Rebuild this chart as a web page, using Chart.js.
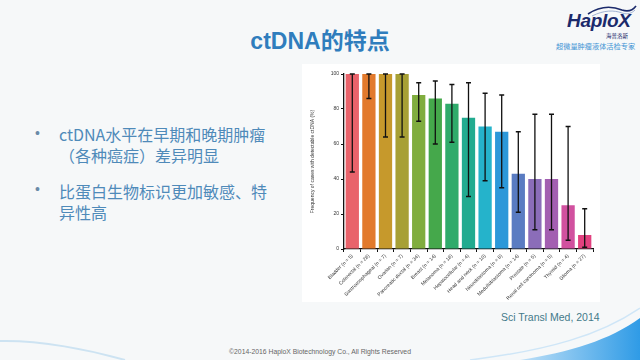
<!DOCTYPE html>
<html>
<head>
<meta charset="utf-8">
<script src="https://cdn.jsdelivr.net/npm/chart.js@4.4.1/dist/chart.umd.min.js"></script>
<style>
  html, body { margin:0; padding:0; }
  body { width:640px; height:360px; position:relative; overflow:hidden; background:#f6f8f9;
         font-family:"Liberation Sans", Arial, "Noto Sans CJK SC", sans-serif; }
  .abs { position:absolute; white-space:nowrap; }
  #title { left:0; width:640px; top:22px; text-align:center; font-size:23px; font-weight:bold; color:#2f7dbd;
           font-family:"Liberation Sans", Arial, "Noto Sans CJK SC", sans-serif; }
  .bul { font-size:16px; color:#4f8ab9; font-family:"Noto Sans CJK SC", "Liberation Sans", sans-serif; line-height:21px; }
  .dot { font-size:14px; color:#6a8aa8; }
  #panel { left:302px; top:64px; width:298px; height:238px; background:#ffffff; }
  #wrap { position:absolute; left:300px; top:60px; width:300px; height:245px; }
  #ref { left:501px; top:311px; font-size:10.5px; color:#447a8a; }
  #foot { left:0; width:640px; top:348px; text-align:center; font-size:6.8px; color:#666; }
  #logo { left:567px; top:10px; font-size:19px; font-weight:bold; font-style:italic; color:#1b2a6b; letter-spacing:-0.3px; }
  #logo2 { left:606px; top:32px; font-size:5.5px; color:#1b2a6b; font-family:"Noto Sans CJK SC", sans-serif; }
  #slogan { left:556px; top:41px; font-size:7.2px; color:#3e93d4; font-family:"Noto Sans CJK SC", sans-serif; }
</style>
</head>
<body>
<svg class="abs" style="left:0;top:0" width="640" height="360">
  <defs>
    <linearGradient id="g1" x1="0" y1="0" x2="1" y2="0">
      <stop offset="0" stop-color="#bfe0f7"/>
      <stop offset="1" stop-color="#2f9be6"/>
    </linearGradient>
  </defs>
  <path d="M520,360 C570,352 610,340 640,318 L640,360 Z" fill="url(#g1)"/>
  <path d="M470,360 C550,350 600,335 640,308" stroke="#cfe6f7" stroke-width="1.5" fill="none"/>
  <path d="M0,341 C40,340 90,350 125,360" stroke="#cde3f2" stroke-width="2" fill="none"/>
  <path d="M588,14 C600,6 612,6 622,10 C628,12 633,10 636,6" stroke="#1b2a6b" stroke-width="1.6" fill="none"/>
  <path d="M592,16 C604,10 614,10 622,13 C628,15 632,13 635,10" stroke="#8aa0c8" stroke-width="0.8" fill="none"/>
</svg>
<div id="title" class="abs">ctDNA的特点</div>
<div id="logo" class="abs">HaploX</div>
<div id="logo2" class="abs">海普洛斯</div>
<div id="slogan" class="abs">超微量肿瘤液体活检专家</div>

<div class="abs dot" style="left:35px;top:125px;">•</div>
<div class="abs bul" style="left:59px;top:124px;">ctDNA水平在早期和晚期肿瘤<br>（各种癌症）差异明显</div>
<div class="abs dot" style="left:35px;top:181px;">•</div>
<div class="abs bul" style="left:59px;top:181px;">比蛋白生物标识更加敏感、特<br>异性高</div>

<div id="panel" class="abs"></div>
<div id="wrap"><canvas id="c" width="300" height="245"></canvas></div>

<div id="ref" class="abs">Sci Transl Med, 2014</div>
<div id="foot" class="abs">©2014-2016 HaploX Biotechnology Co., All Rights Reserved</div>

<script>
const categories = [
  "Bladder (n = 5)", "Colorectal (n = 28)", "Gastroesophageal (n = 7)", "Ovarian (n = 7)",
  "Pancreatic ductal (n = 34)", "Breast (n = 14)", "Melanoma (n = 18)", "Hepatocellular (n = 4)",
  "Head and neck (n = 10)", "Neuroblastoma (n = 8)", "Medulloblastoma (n = 14)", "Prostate (n = 5)",
  "Renal cell carcinoma (n = 5)", "Thyroid (n = 4)", "Glioma (n = 27)"
];
const detectedPct = [100, 100, 100, 100, 88, 86, 83, 75, 70, 67, 43, 40, 40, 25, 8];
const ciLow  = [44, 86, 64, 64, 73, 60, 61, 30, 39, 35, 21, 11, 11, 5, 1];
const ciHigh = [100, 100, 100, 100, 95, 96, 94, 95, 89, 88, 67, 77, 77, 70, 23];
const yTickValues = [0, 20, 40, 60, 80, 100];

const barColors = ["#e9636b", "#e27a2c", "#c6992c", "#a7a035", "#80ad3e", "#45a84b", "#2fab6b",
  "#22ab90", "#25b3cb", "#2c98d9", "#5a7cc2", "#8b6db9", "#a35fb1", "#d1519f", "#e2417f"];

const errorBars = {
  id: 'errorBars',
  afterDatasetsDraw(chart) {
    const ctx = chart.ctx, y = chart.scales.y;
    const meta = chart.getDatasetMeta(0);
    ctx.save();
    ctx.strokeStyle = '#111';
    ctx.lineWidth = 1.3;
    meta.data.forEach((bar, i) => {
      const yl = y.getPixelForValue(ciLow[i]);
      const yh = y.getPixelForValue(ciHigh[i]);
      ctx.beginPath();
      ctx.moveTo(bar.x, yl); ctx.lineTo(bar.x, yh);
      ctx.moveTo(bar.x - 2.5, yl); ctx.lineTo(bar.x + 2.5, yl);
      ctx.moveTo(bar.x - 2.5, yh); ctx.lineTo(bar.x + 2.5, yh);
      ctx.stroke();
    });
    ctx.restore();
  }
};

new Chart(document.getElementById('c'), {
  type: 'bar',
  data: {
    labels: categories,
    datasets: [{
      data: detectedPct,
      backgroundColor: barColors,
      borderWidth: 0,
      barPercentage: 0.8,
      categoryPercentage: 1.0
    }]
  },
  options: {
    responsive: false,
    animation: false,
    devicePixelRatio: 1,
    layout: { padding: { left: 10, top: 14, right: 7, bottom: 0 } },
    plugins: { legend: { display: false }, tooltip: { enabled: false } },
    scales: {
      x: {
        afterFit(s) { s.height = 56; },
        border: { color: '#111', width: 1.3 },
        grid: { display: true, drawOnChartArea: false, drawTicks: true, tickLength: 3, color: '#111' },
        ticks: { autoSkip: false, minRotation: 45, maxRotation: 45, padding: 1,
                 font: { size: 5, family: 'Liberation Sans' }, color: '#333' }
      },
      y: {
        min: 0, max: 100,
        afterFit(s) { s.width = 34; },
        afterBuildTicks(s) { s.ticks = yTickValues.map(v => ({ value: v })); },
        border: { color: '#111', width: 1.3 },
        grid: { display: true, drawOnChartArea: false, drawTicks: true, tickLength: 3, color: '#111' },
        ticks: { padding: 2, font: { size: 5, family: 'Liberation Sans' }, color: '#333' },
        title: { display: true, text: 'Frequency of cases with detectable ctDNA (%)',
                 font: { size: 5, family: 'Liberation Sans' }, color: '#333', padding: 0 }
      }
    }
  },
  plugins: [errorBars]
});
</script>
</body>
</html>
